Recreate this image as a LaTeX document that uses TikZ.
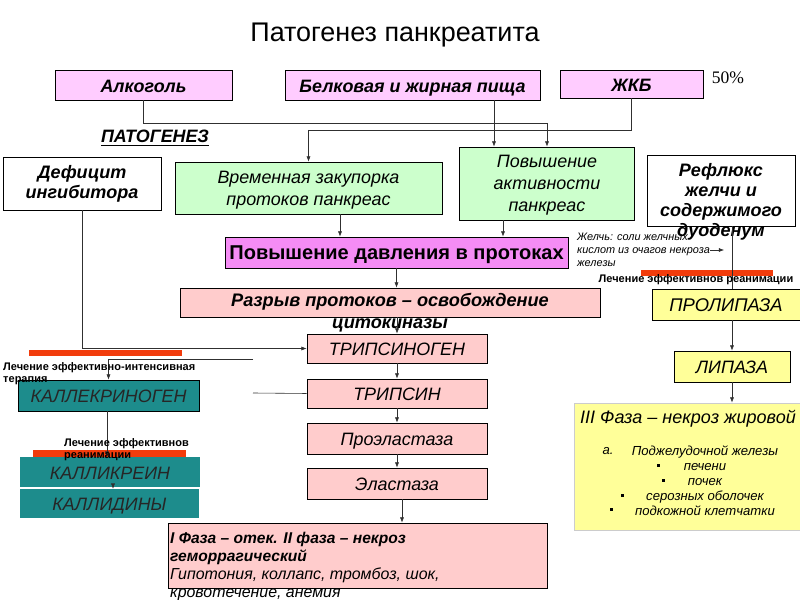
\documentclass[tikz,border=0pt]{standalone}
\usepackage{fontspec}
\setmainfont{Liberation Sans}
\newfontfamily\tmsfont{Liberation Serif}
\usetikzlibrary{arrows.meta,calc}
\definecolor{pinkA}{HTML}{FFCCFF}
\definecolor{magA}{HTML}{F58CF5}
\definecolor{greenA}{HTML}{CCFFCC}
\definecolor{salmonA}{HTML}{FFCCCC}
\definecolor{yellowA}{HTML}{FFFF99}
\definecolor{tealA}{HTML}{1D8C8C}
\definecolor{redA}{HTML}{F23C0C}
\definecolor{lineA}{HTML}{303030}
\begin{document}
\begin{tikzpicture}[x=0.03cm,y=-0.03cm,
  sz/.style 2 args={minimum width=#1*0.03cm, minimum height=#2*0.03cm},
  box/.style={draw=black, line width=0.6pt, inner sep=0pt},
  one/.style={text height=14pt, text depth=2pt},
  txt/.style={inner sep=0pt, align=center},
  bar/.style={fill=redA, inner sep=0pt},
  arr/.style={draw=lineA, line width=0.5pt, -{Latex[length=4.5pt,width=3.5pt]}},
  ln/.style={draw=lineA, line width=0.5pt},
  bi/.style={font=\fontsize{15.3}{17}\selectfont\bfseries\itshape},
  it/.style={font=\fontsize{15.3}{18.8}\selectfont\itshape},
  sm/.style={font=\fontsize{9.4}{10.3}\selectfont\bfseries}
]
\useasboundingbox (0,0) rectangle (800,600);
% title
\node[txt, font=\fontsize{23}{26}\selectfont] (title) at (395,35) {Патогенез панкреатита};
% top row
\node[box, fill=pinkA, sz={177}{30}, bi, one] (alk) at (143.5,85) {Алкоголь};
\node[box, fill=pinkA, sz={255}{30}, bi, one] (food) at (412.5,85) {Белковая и жирная пища};
\node[box, fill=pinkA, sz={143}{28}, bi, one] (zhkb) at (631.5,84) {ЖКБ};
\node[txt, font=\fontsize{15}{17}\selectfont\tmsfont] (p50) at (728,78) {50\%};
\node[txt, bi] (patog) at (155,138) {\underline{ПАТОГЕНЕЗ}};
% second row
\node[box, fill=white, sz={158}{53}] (def) at (82,183.5) {};
\node[txt, font=\fontsize{15.4}{17}\selectfont\bfseries\itshape] (deftx) at (82,184) {Дефицит\\ингибитора};
\node[box, fill=greenA, sz={267}{52}] (zak) at (308.5,188) {};
\node[txt, it] (zaktx) at (308.5,190) {Временная закупорка\\протоков панкреас};
\node[box, fill=greenA, sz={175}{73}] (akt) at (547,183.5) {};
\node[txt, it] (akttx) at (547,185.5) {Повышение\\активности\\панкреас};
\node[box, fill=white, sz={148}{71}] (refl) at (721,190.5) {};
\node[txt, font=\fontsize{15.4}{17}\selectfont\bfseries\itshape] (refltx) at (721,202) {Рефлюкс\\желчи и\\содержимого\\дуоденум};
% pressure
\node[box, fill=magA, sz={343}{31}, text height=14pt, text depth=1.6pt, font=\fontsize{17.1}{19}\selectfont\bfseries] (dav) at (396.5,252.5) {Повышение давления в протоках};
\node[txt, align=left, anchor=west, font=\fontsize{9.3}{11}\selectfont\itshape] (zhelch) at (577,250) {Желчь: соли желчных\\кислот из очагов некроза\\железы};
\node[bar, sz={132}{6}] (redR) at (707,273) {};
% rupture
\node[box, fill=salmonA, sz={420}{29}] (razr) at (390,302.5) {};
\node[txt, font=\fontsize{15.5}{19}\selectfont\bfseries\itshape] (razrtx) at (390,313) {Разрыв протоков – освобождение\\цитокиназы};
\node[box, fill=yellowA, sz={148}{31}, one, font=\fontsize{15.7}{18}\selectfont\itshape] (prolip) at (726,304.5) {ПРОЛИПАЗА};
% trypsin column
\node[box, fill=salmonA, sz={180}{29}, it, one] (trg) at (397,348.5) {ТРИПСИНОГЕН};
\node[box, fill=salmonA, sz={180}{29}, it, one] (tr) at (397,393.5) {ТРИПСИН};
\node[box, fill=salmonA, sz={180}{31}, it, one] (proel) at (397,438.5) {Проэластаза};
\node[box, fill=salmonA, sz={180}{31}, it, one] (el) at (397,483.5) {Эластаза};
% lipase column
\node[box, fill=yellowA, sz={116}{31}, it, one] (lip) at (732,366.5) {ЛИПАЗА};
\node[box, draw=black!20, fill=yellowA, sz={226}{127}] (f3) at (687,466.5) {};
\node[txt, font=\fontsize{15.4}{17}\selectfont\itshape] (f3t) at (688,419) {III Фаза – некроз жировой};
\node[txt, font=\fontsize{11.2}{12.8}\selectfont\itshape] (f3a) at (608,451) {а.};
\node[txt, font=\fontsize{11.2}{12.8}\selectfont\itshape] (f3l) at (705,480.5) {Поджелудочной железы\\печени\\почек\\серозных оболочек\\подкожной клетчатки};
\fill (656.5,464.5) rectangle ++(3,3);
\fill (661.5,479.5) rectangle ++(3,3);
\fill (620.5,494.5) rectangle ++(3,3);
\fill (609.5,508.5) rectangle ++(3,3);
% left kallikrein
\node[bar, sz={153}{6}] (redL) at (105,353.5) {};
\node[box, fill=tealA, sz={181}{31}, it, one, text=black!85] (kalg) at (108.5,395.5) {КАЛЛЕКРИНОГЕН};
\node[bar, sz={153}{7}] (redM) at (109.5,453.5) {};
\node[inner sep=0pt, fill=tealA, sz={180}{30}, it, one, text=black!85] (kalk) at (110,472) {КАЛЛИКРЕИН};
\node[inner sep=0pt, fill=tealA, sz={179}{29}, it, one, text=black!85] (kald) at (109.5,503.5) {КАЛЛИДИНЫ};
% phase box
\node[box, fill=salmonA, sz={379}{65}] (big) at (357.5,555.5) {};
\node[txt, align=left, anchor=north west, font=\fontsize{13.6}{15.4}\selectfont\itshape] (bigtx) at (170,532) {\fontsize{13.3}{15.4}\selectfont\textbf{I Фаза – отек. II фаза – некроз}\\\fontsize{13.3}{15.4}\selectfont\textbf{геморрагический}\\Гипотония, коллапс, тромбоз, шок,\\кровотечение, анемия};
% connectors
\coordinate (jA) at (547,123);
\coordinate (jB) at (308.5,130);
\coordinate (fo) at ($(food.south)+(81.5,0)$);
\coordinate (zo) at ($(zak.south)+(31.5,0)$);
\coordinate (ao) at ($(akt.south)+(-44,0)$);
\coordinate (eo) at ($(el.south)+(5,0)$);
\coordinate (ko) at ($(kalg.south)+(-1.5,0)$);
\coordinate (kko) at ($(kalk.south)+(3,0)$);
\draw[ln] (alk.south) -- (alk.south |- jA) -- (jA);
\draw[arr] (jA) -- (jA |- akt.north);
\draw[ln] (zhkb.south) -- (zhkb.south |- jB) -- (jB);
\draw[arr] (jB) -- (zak.north);
\draw[arr] (fo) -- (fo |- akt.north);
\draw[arr] (zo) -- (zo |- dav.north);
\draw[arr] (ao) -- (ao |- dav.north);
\draw[arr] (dav.south) -- (dav.south |- razr.north);
\draw[arr] (trg.north |- razr.south) -- (trg.north);
\draw[arr] (def.south) |- (trg.west);
\draw[arr] (trg.south) -- (tr.north);
\draw[arr] (tr.south) -- (proel.north);
\draw[arr] (proel.south) -- (el.north);
\draw[arr] (eo) -- (eo |- big.north);
\draw[arr] (zhelch.east) -- ++(14,0);
\draw[ln] (refl.south -| lip.north) -- (prolip.north -| lip.north);
\draw[arr] (prolip.south -| lip.north) -- (lip.north);
\draw[arr] (lip.south) -- (f3.north -| lip.south);
\coordinate (k1) at (253,359);
\coordinate (k2) at (253,393);
\draw[ln] (tr.west) -- (k2);
\draw[arr] (k1) -| (kalg.north);
\draw[arr] (ko) -- (ko |- kalk.north);
\draw[arr] (kko) -- (kko |- kald.north);
% treatment labels on top
\node[txt, sm] (lechR) at (696,280) {Лечение эффективнов реанимации};
\node[txt, sm, align=left, anchor=north west] (lechL) at (3,362) {Лечение эффективно-интенсивная\\терапия};
\node[txt, sm, align=left, anchor=north west] (lechM) at (64,438) {Лечение эффективнов\\реанимации};
\end{tikzpicture}
\end{document}
